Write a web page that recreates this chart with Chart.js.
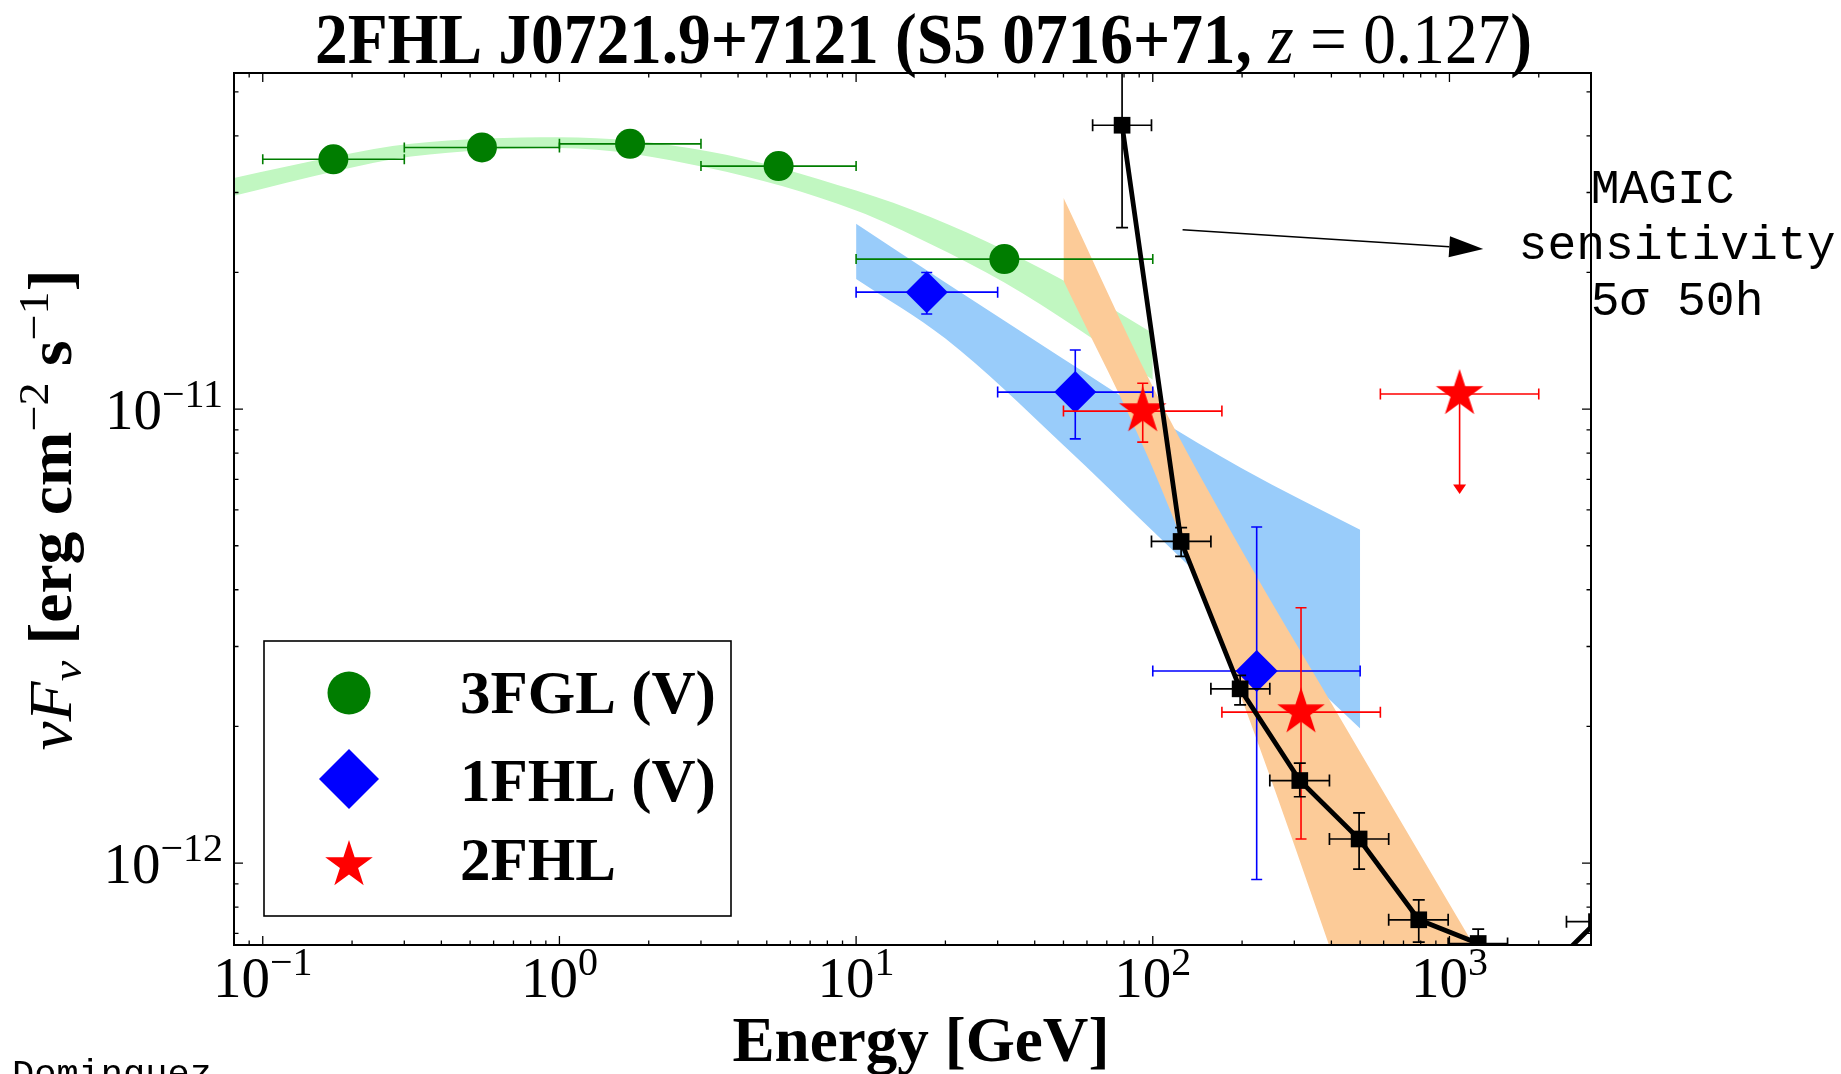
<!DOCTYPE html>
<html>
<head>
<meta charset="utf-8">
<title>2FHL J0721.9+7121 SED</title>
<script src="https://cdn.jsdelivr.net/npm/chart.js@4.4.0/dist/chart.umd.min.js"></script>
<style>
  html, body { margin: 0; padding: 0; background: #fff; }
  canvas { display: block; }
</style>
</head>
<body>
<canvas id="sed" width="1841" height="1074"></canvas>
<script>
// energies in GeV, fluxes (nuF_nu) in erg cm^-2 s^-1

// 3FGL (variable)
const fglEnergy = [0.173, 0.548, 1.73, 5.48, 31.6];
const fglEmin   = [0.1, 0.3, 1, 3, 10];
const fglEmax   = [0.3, 1, 3, 10, 100];
const fglFlux   = [3.55e-11, 3.77e-11, 3.84e-11, 3.43e-11, 2.14e-11];

// 1FHL (variable)
const fhl1Energy = [17.3, 54.8, 224];
const fhl1Emin   = [10, 30, 100];
const fhl1Emax   = [30, 100, 500];
const fhl1Flux   = [1.81e-11, 1.09e-11, 2.65e-12];
const fhl1FluxLo = [1.62e-11, 8.6e-12, 9.2e-13];
const fhl1FluxHi = [2.0e-11, 1.35e-11, 5.5e-12];

// 2FHL, last bin is an upper limit (arrow drawn down to FluxLo)
const fhl2Energy = [92.5, 316, 1082];
const fhl2Emin   = [50, 171, 585];
const fhl2Emax   = [171, 585, 2000];
const fhl2Flux   = [9.9e-12, 2.15e-12, 1.08e-11];
const fhl2FluxLo = [8.46e-12, 1.13e-12, 6.5e-12];
const fhl2FluxHi = [1.14e-11, 3.65e-12, null];
const fhl2Limit  = [false, false, true];

// MAGIC 5 sigma 50 h sensitivity
const magicEnergy = [78.8, 124.6, 197, 313, 496, 788, 1250, 1970, 3130];
const magicEmin   = [62.7, 99, 157, 248, 394, 624, 990, 1570, 2480];
const magicEmax   = [99, 157, 248, 394, 624, 990, 1570, 2480, 3950];
const magicFlux   = [4.22e-11, 5.11e-12, 2.42e-12, 1.52e-12, 1.13e-12, 7.5e-13, 6.65e-13, 5.5e-13, 7.43e-13];
const magicFluxLo = [2.51e-11, 4.74e-12, 2.23e-12, 1.40e-12, 9.7e-13, 6.7e-13, 6.2e-13, 5.1e-13, 6.9e-13];
const magicFluxHi = [8.0e-11, 5.48e-12, 2.59e-12, 1.66e-12, 1.29e-12, 8.3e-13, 7.15e-13, 6.0e-13, 8.0e-13];

// model butterflies: upper / lower edges
const fglBandE  = [0.08, 0.178, 0.316, 1, 3.16, 10, 17.8, 31.6, 56.2, 100];
const fglBandHi = [3.23e-11, 3.61e-11, 3.84e-11, 3.97e-11, 3.70e-11, 3.03e-11, 2.65e-11, 2.24e-11, 1.84e-11, 1.47e-11];
const fglBandLo = [2.95e-11, 3.35e-11, 3.60e-11, 3.76e-11, 3.40e-11, 2.74e-11, 2.31e-11, 1.90e-11, 1.50e-11, 1.16e-11];

const fhl1BandE  = [10, 20, 50, 100, 200, 500];
const fhl1BandHi = [2.56e-11, 1.90e-11, 1.29e-11, 9.67e-12, 7.40e-12, 5.42e-12];
const fhl1BandLo = [1.935e-11, 1.43e-11, 8.33e-12, 5.39e-12, 3.49e-12, 1.98e-12];

const fhl2BandE  = [50, 100, 200, 400, 1000, 2000];
const fhl2BandHi = [2.92e-11, 1.12e-11, 4.87e-12, 2.25e-12, 8.13e-13, 3.77e-13];
const fhl2BandLo = [1.92e-11, 7.41e-12, 2.29e-12, 6.37e-13, 1.05e-13, 2.43e-14];

// axes
const xRange = [0.08, 3000];
const yRange = [6.6e-13, 5.5e-11];
const xMajorTicks = [0.1, 1, 10, 100, 1000];
const xTickExp    = ['\u22121', '0', '1', '2', '3'];
const yMajorTicks = [1e-12, 1e-11];
const yTickExp    = ['\u221212', '\u221211'];

const legendItems = ['3FGL (V)', '1FHL (V)', '2FHL'];

// annotation: text block and arrow, in data coordinates
const magicNote  = { x: 5850, y: 2.84e-11, lines: ['MAGIC ', 'sensitivity', '5\u03c3 50h'] };
const magicArrow = { from: [126, 2.485e-11], to: [1300, 2.253e-11] };

const SERIF = '"Liberation Serif", "DejaVu Serif", serif';
const MONO = '"Liberation Mono", "DejaVu Sans Mono", monospace';

function minorTicks(lo, hi) {
  const out = [];
  for (let e = Math.floor(Math.log10(lo)); e <= Math.ceil(Math.log10(hi)); e++) {
    for (let m = 2; m <= 9; m++) {
      const v = m * Math.pow(10, e);
      if (v > lo * 1.0001 && v < hi * 0.9999) out.push(v);
    }
  }
  return out;
}

const pts = (xs, ys) => xs.map((x, i) => ({ x: x, y: ys[i] }));

function starPath(g, cx, cy, R) {
  const r = R * 0.381966;
  g.beginPath();
  for (let k = 0; k < 10; k++) {
    const rad = k % 2 ? r : R;
    const ang = -Math.PI / 2 + k * Math.PI / 5;
    g.lineTo(cx + rad * Math.cos(ang), cy + rad * Math.sin(ang));
  }
  g.closePath();
}

function starImage(R, color) {
  const c = document.createElement('canvas');
  const s = Math.ceil(2 * R + 4);
  c.width = s;
  c.height = s;
  const g = c.getContext('2d');
  g.fillStyle = color;
  starPath(g, s / 2, s / 2, R);
  g.fill();
  return c;
}

// rich text: segments {t, style, scale, dy}
function fontOf(seg, size) {
  return (seg.style || '') + ' ' + Math.round(size * (seg.scale || 1)) + 'px ' + (seg.family || SERIF);
}
function richWidth(g, segs, size) {
  let w = 0;
  segs.forEach(s => { g.font = fontOf(s, size); w += g.measureText(s.t).width; });
  return w;
}
function drawRich(g, segs, x, y, size, align, width) {
  const natural = richWidth(g, segs, size);
  const sx = width ? width / natural : 1;
  const total = natural * sx;
  let start = x;
  if (align === 'center') start = x - total / 2;
  if (align === 'right') start = x - total;
  g.save();
  g.translate(start, y);
  g.scale(sx, 1);
  g.textAlign = 'left';
  g.textBaseline = 'alphabetic';
  let cx = 0;
  segs.forEach(s => {
    g.font = fontOf(s, size);
    g.fillText(s.t, cx, (s.dy || 0) * size);
    cx += g.measureText(s.t).width;
  });
  g.restore();
}

const errorBars = {
  id: 'errorBars',
  beforeDatasetDraw(chart, args) {
    const ds = chart.data.datasets[args.index];
    const e = ds.err;
    if (!e) return;
    const { ctx, chartArea: a } = chart;
    const xs = chart.scales.x, ys = chart.scales.y;
    ctx.save();
    ctx.beginPath();
    ctx.rect(a.left, a.top, a.right - a.left, a.bottom - a.top);
    ctx.clip();
    ctx.strokeStyle = e.color;
    ctx.fillStyle = e.color;
    ctx.lineWidth = e.width;
    ds.data.forEach((p, i) => {
      const px = xs.getPixelForValue(p.x);
      const py = ys.getPixelForValue(p.y);
      ctx.beginPath();
      if (e.xlo) {
        const x0 = xs.getPixelForValue(e.xlo[i]);
        const x1 = xs.getPixelForValue(e.xhi[i]);
        ctx.moveTo(x0, py); ctx.lineTo(x1, py);
        ctx.moveTo(x0, py - e.cap); ctx.lineTo(x0, py + e.cap);
        ctx.moveTo(x1, py - e.cap); ctx.lineTo(x1, py + e.cap);
      }
      if (e.ylo && e.ylo[i] != null) {
        const y0 = ys.getPixelForValue(e.ylo[i]);
        if (e.limit && e.limit[i]) {
          ctx.moveTo(px, py); ctx.lineTo(px, y0 - 9);
          ctx.stroke();
          ctx.beginPath();
          ctx.moveTo(px, y0);
          ctx.lineTo(px - 6.5, y0 - 9.5);
          ctx.lineTo(px + 6.5, y0 - 9.5);
          ctx.closePath();
          ctx.fill();
          ctx.beginPath();
        } else {
          const y1 = ys.getPixelForValue(e.yhi[i]);
          ctx.moveTo(px, y0); ctx.lineTo(px, y1);
          ctx.moveTo(px - e.cap, y0); ctx.lineTo(px + e.cap, y0);
          ctx.moveTo(px - e.cap, y1); ctx.lineTo(px + e.cap, y1);
        }
      }
      ctx.stroke();
    });
    ctx.restore();
  }
};

const background = {
  id: 'background',
  beforeDraw(chart) {
    const g = chart.ctx;
    g.save();
    g.fillStyle = '#fff';
    g.fillRect(0, 0, chart.width, chart.height);
    g.restore();
  }
};

const frame = {
  id: 'frame',
  afterDatasetsDraw(chart) {
    const { ctx, chartArea: a } = chart;
    const xs = chart.scales.x, ys = chart.scales.y;
    ctx.save();
    ctx.strokeStyle = '#000';
    ctx.lineWidth = 1.3;
    ctx.beginPath();
    const xTick = (v, len) => {
      const px = xs.getPixelForValue(v);
      ctx.moveTo(px, a.bottom); ctx.lineTo(px, a.bottom - len);
      ctx.moveTo(px, a.top); ctx.lineTo(px, a.top + len);
    };
    const yTick = (v, len) => {
      const py = ys.getPixelForValue(v);
      ctx.moveTo(a.left, py); ctx.lineTo(a.left + len, py);
      ctx.moveTo(a.right, py); ctx.lineTo(a.right - len, py);
    };
    minorTicks(xRange[0], xRange[1]).forEach(v => xTick(v, 4.5));
    xMajorTicks.forEach(v => xTick(v, 9));
    minorTicks(yRange[0], yRange[1]).forEach(v => yTick(v, 4.5));
    yMajorTicks.forEach(v => yTick(v, 9));
    ctx.stroke();
    ctx.lineWidth = 2;
    ctx.strokeRect(a.left, a.top, a.right - a.left, a.bottom - a.top);

    ctx.fillStyle = '#000';
    xMajorTicks.forEach((v, i) => {
      drawRich(ctx, [{ t: '10' }, { t: xTickExp[i], scale: 0.7, dy: -0.39 }],
        xs.getPixelForValue(v), a.bottom + 52, 57, 'center');
    });
    yMajorTicks.forEach((v, i) => {
      drawRich(ctx, [{ t: '10' }, { t: yTickExp[i], scale: 0.7, dy: -0.39 }],
        a.left - 11, ys.getPixelForValue(v) + 20, 57, 'right');
    });
    ctx.restore();
  },
  afterDraw(chart) {
    const { ctx, chartArea: a } = chart;
    const xs = chart.scales.x, ys = chart.scales.y;
    ctx.save();
    ctx.fillStyle = '#000';

    // title
    drawRich(ctx, [
      { t: '2FHL J0721.9+7121 (S5 0716+71, ', style: 'bold' },
      { t: 'z', style: 'italic' },
      { t: ' = 0.127' },
      { t: ')', style: 'bold' }
    ], 923.5, 63, 72, 'center', 1217);

    // axis titles
    drawRich(ctx, [{ t: 'Energy [GeV]', style: 'bold' }], 921, 1061, 63, 'center', 377);
    ctx.save();
    ctx.translate(71, (a.top + a.bottom) / 2 + 1);
    ctx.rotate(-Math.PI / 2);
    drawRich(ctx, [
      { t: '\u03bd', style: 'italic' },
      { t: 'F', style: 'italic' },
      { t: '\u03bd', style: 'italic', scale: 0.7, dy: 0.16 },
      { t: ' [erg cm', style: 'bold' },
      { t: '\u22122', scale: 0.7, dy: -0.38 },
      { t: ' s', style: 'bold' },
      { t: '\u22121', scale: 0.7, dy: -0.38 },
      { t: ']', style: 'bold' }
    ], 0, 0, 61, 'center', 481);
    ctx.restore();

    // legend
    ctx.fillStyle = '#fff';
    ctx.fillRect(264, 641, 467, 275);
    ctx.strokeStyle = '#000';
    ctx.lineWidth = 1.6;
    ctx.strokeRect(264, 641, 467, 275);
    ctx.fillStyle = '#007d00';
    ctx.beginPath();
    ctx.arc(349, 693, 21.5, 0, Math.PI * 2);
    ctx.fill();
    ctx.fillStyle = '#0000ff';
    ctx.beginPath();
    ctx.moveTo(349 - 30, 779); ctx.lineTo(349, 749); ctx.lineTo(349 + 30, 779); ctx.lineTo(349, 809);
    ctx.closePath();
    ctx.fill();
    ctx.fillStyle = '#ff0000';
    starPath(ctx, 349, 865, 25);
    ctx.fill();
    ctx.fillStyle = '#000';
    [713, 800.5, 880].forEach((yb, i) => {
      drawRich(ctx, [{ t: legendItems[i], style: 'bold' }], 460, yb, 61, 'left');
    });

    // sensitivity note and arrow
    const ax0 = xs.getPixelForValue(magicArrow.from[0]), ay0 = ys.getPixelForValue(magicArrow.from[1]);
    const ax1 = xs.getPixelForValue(magicArrow.to[0]), ay1 = ys.getPixelForValue(magicArrow.to[1]);
    const ang = Math.atan2(ay1 - ay0, ax1 - ax0);
    const hl = 34, hw = 10.5;
    const bx = ax1 - hl * Math.cos(ang), by = ay1 - hl * Math.sin(ang);
    ctx.strokeStyle = '#000';
    ctx.lineWidth = 1.5;
    ctx.beginPath();
    ctx.moveTo(ax0, ay0); ctx.lineTo(bx, by);
    ctx.stroke();
    ctx.beginPath();
    ctx.moveTo(ax1, ay1);
    ctx.lineTo(bx + hw * Math.sin(ang), by - hw * Math.cos(ang));
    ctx.lineTo(bx - hw * Math.sin(ang), by + hw * Math.cos(ang));
    ctx.closePath();
    ctx.fill();

    const nx = xs.getPixelForValue(magicNote.x), ny = ys.getPixelForValue(magicNote.y);
    ctx.font = '48px ' + MONO;
    ctx.textAlign = 'center';
    ctx.textBaseline = 'alphabetic';
    magicNote.lines.forEach((line, i) => ctx.fillText(line, nx, ny + i * 56));

    ctx.textAlign = 'left';
    ctx.font = '37px ' + MONO;
    ctx.fillText('Dominguez', 12, 1085);
    ctx.restore();
  }
};

function edge(xs, ys, color, fill) {
  return {
    data: pts(xs, ys),
    showLine: true,
    fill: fill ? '+1' : false,
    backgroundColor: color,
    borderColor: 'rgba(0,0,0,0)',
    borderWidth: 0,
    pointRadius: 0,
    cubicInterpolationMode: 'monotone'
  };
}

// first dataset is drawn on top
const datasets = [
  {
    label: 'MAGIC sensitivity',
    data: pts(magicEnergy, magicFlux),
    showLine: true,
    borderColor: '#000',
    borderWidth: 4.8,
    tension: 0,
    pointStyle: 'rect',
    pointRadius: 11.8,
    pointBackgroundColor: '#000',
    pointBorderColor: '#000',
    pointBorderWidth: 0,
    clip: 0,
    err: { xlo: magicEmin, xhi: magicEmax, ylo: magicFluxLo, yhi: magicFluxHi, color: '#000', cap: 6, width: 1.7 }
  },
  {
    label: '2FHL',
    data: pts(fhl2Energy, fhl2Flux),
    showLine: false,
    pointStyle: starImage(25, '#ff0000'),
    pointRadius: 25,
    err: { xlo: fhl2Emin, xhi: fhl2Emax, ylo: fhl2FluxLo, yhi: fhl2FluxHi, limit: fhl2Limit, color: '#ff0000', cap: 5.5, width: 1.6 }
  },
  {
    label: '1FHL (V)',
    data: pts(fhl1Energy, fhl1Flux),
    showLine: false,
    pointStyle: 'rectRot',
    pointRadius: 21,
    pointBackgroundColor: '#0000ff',
    pointBorderColor: '#0000ff',
    pointBorderWidth: 0,
    err: { xlo: fhl1Emin, xhi: fhl1Emax, ylo: fhl1FluxLo, yhi: fhl1FluxHi, color: '#0000ff', cap: 5.5, width: 1.6 }
  },
  {
    label: '3FGL (V)',
    data: pts(fglEnergy, fglFlux),
    showLine: false,
    pointStyle: 'circle',
    pointRadius: 15,
    pointBackgroundColor: '#007d00',
    pointBorderColor: '#007d00',
    pointBorderWidth: 0,
    err: { xlo: fglEmin, xhi: fglEmax, color: '#007d00', cap: 5, width: 1.6 }
  },
  edge(fhl2BandE, fhl2BandHi, '#fccb98', true),
  edge(fhl2BandE, fhl2BandLo, '#fccb98', false),
  edge(fhl1BandE, fhl1BandHi, '#99ccfa', true),
  edge(fhl1BandE, fhl1BandLo, '#99ccfa', false),
  edge(fglBandE, fglBandHi, '#c1f7c1', true),
  edge(fglBandE, fglBandLo, '#c1f7c1', false)
];

const sedChart = new Chart(document.getElementById('sed'), {
  type: 'line',
  data: { datasets: datasets },
  options: {
    responsive: false,
    devicePixelRatio: 1,
    animation: false,
    events: [],
    layout: { padding: { left: 234, top: 73, right: 250, bottom: 129 } },
    scales: {
      x: { type: 'logarithmic', min: xRange[0], max: xRange[1], bounds: 'data', display: false },
      y: { type: 'logarithmic', min: yRange[0], max: yRange[1], bounds: 'data', display: false }
    },
    plugins: {
      legend: { display: false },
      tooltip: { enabled: false },
      filler: { propagate: false }
    }
  },
  plugins: [background, errorBars, frame]
});
</script>
</body>
</html>
